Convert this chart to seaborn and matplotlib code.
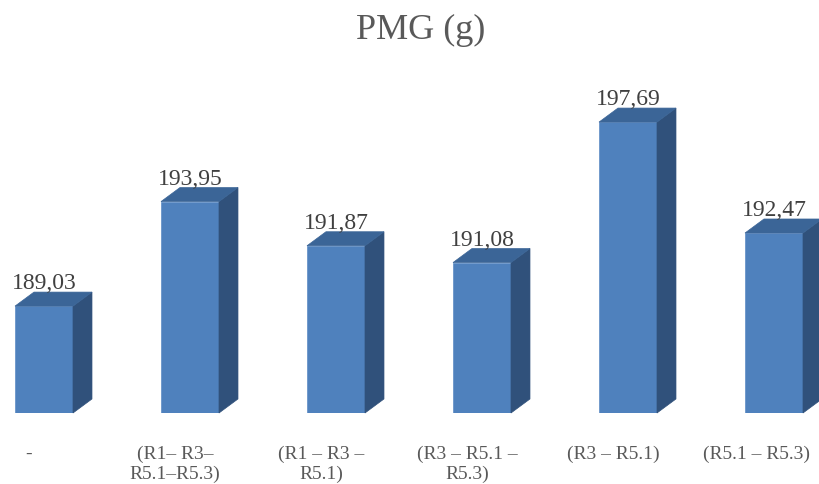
import matplotlib
matplotlib.use("Agg")
import matplotlib.pyplot as plt
import seaborn as sns
import pandas as pd
from matplotlib.patches import Polygon

# Chart content
categories = ["-", "(R1– R3–\nR5.1–R5.3)", "(R1 – R3 –\nR5.1)",
              "(R3 – R5.1 –\nR5.3)", "(R3 – R5.1)", "(R5.1 – R5.3)"]
values = [189.03, 193.95, 191.87, 191.08, 197.69, 192.47]
value_labels = ["189,03", "193,95", "191,87", "191,08", "197,69", "192,47"]
title = "PMG (g)"

# Styling
FRONT = "#4F81BD"
TOP = "#3B6597"
SIDE = "#30517B"
EDGE = "#6A95C9"
BASE = 184.0          # value at the floor of the chart
DEPTH_X = 0.13        # bar depth, in category units
DEPTH_Y = 0.66        # bar depth, in value units

sns.set_theme(style="white")
plt.rcParams["font.family"] = ["Liberation Serif", "DejaVu Serif"]

W, H = 820, 484
fig = plt.figure(figsize=(W / 100, H / 100), dpi=100)
fig.patch.set_facecolor("white")
ax = fig.add_axes([0, (H - 413) / H, 1, (413 - 60) / H])

df = pd.DataFrame({"cat": categories, "val": values})
sns.barplot(data=df, x="cat", y="val", color=FRONT, saturation=1,
            width=58 / 146, ax=ax, errorbar=None, zorder=2)

ax.set_xlim(-44 / 146, (W - 44) / 146)
ax.set_ylim(BASE, BASE + (413 - 60) / 21.25)
ax.set_axis_off()

# 3D faces built from each bar drawn by seaborn
for bar, label in zip(ax.patches, value_labels):
    x0 = bar.get_x()
    w = bar.get_width()
    v = bar.get_height()
    x1 = x0 + w
    bar.set_edgecolor(EDGE)
    bar.set_linewidth(0.6)
    side = Polygon([(x1, BASE), (x1, v), (x1 + DEPTH_X, v + DEPTH_Y),
                    (x1 + DEPTH_X, BASE + DEPTH_Y)],
                   closed=True, facecolor=SIDE, edgecolor=SIDE, lw=0.5,
                   zorder=2, clip_on=False)
    top = Polygon([(x0, v), (x1, v), (x1 + DEPTH_X, v + DEPTH_Y),
                   (x0 + DEPTH_X, v + DEPTH_Y)],
                  closed=True, facecolor=TOP, edgecolor=TOP, lw=0.5,
                  zorder=2, clip_on=False)
    ax.add_patch(side)
    ax.add_patch(top)
    ax.annotate(label, (x0 + w / 2, v), xytext=(0, 12),
                textcoords="offset points", ha="center", va="baseline",
                fontsize=17, color="#404040", annotation_clip=False)

# Category labels below the floor, nudged left of each bar's front face
xform = ax.get_xaxis_transform()
texts = []
for i, cat in enumerate(categories):
    t = ax.text(i - 0.103, -0.094, cat, transform=xform, ha="center",
                va="top", fontsize=14, color="#595959", linespacing=1.15,
                multialignment="center")
    texts.append(t)

# Keep the labels inside the figure
fig.canvas.draw()
renderer = fig.canvas.get_renderer()
for t in texts:
    bb = t.get_window_extent(renderer)
    if bb.x1 > W - 10:
        shift = (bb.x1 - (W - 10)) / 146
        t.set_x(t.get_position()[0] - shift)

fig.text(421 / W, 1 - 39 / H, title, ha="center", va="baseline",
         fontsize=26, color="#595959")

fig.savefig("out.png", dpi=100, facecolor="white")
